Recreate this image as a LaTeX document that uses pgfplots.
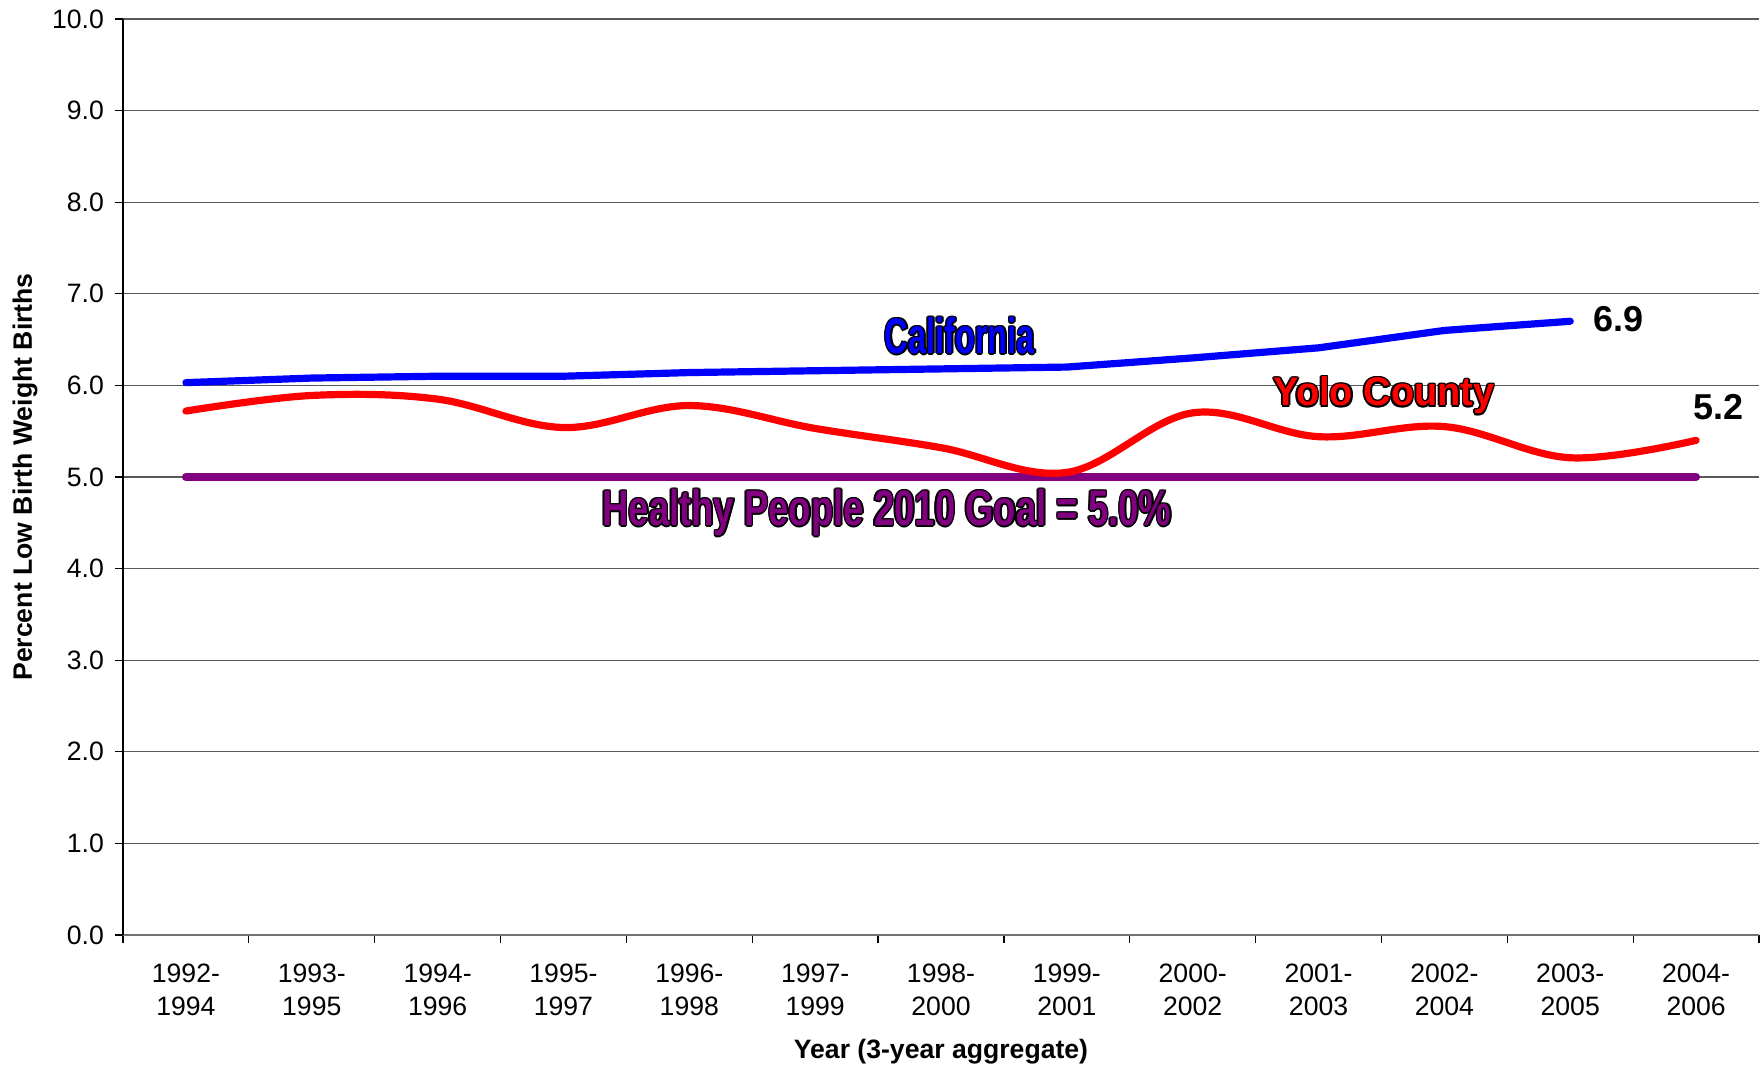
\documentclass[border=0pt]{standalone}
\usepackage{pgfplots}
\pgfplotsset{compat=1.18}
\usepackage{fontspec}
\setmainfont{Liberation Sans}
\definecolor{cablue}{RGB}{0,0,255}
\definecolor{yolored}{RGB}{255,0,0}
\definecolor{hppurple}{RGB}{128,0,128}
\newcommand{\outlined}[5]{%
  \foreach \dx/\dy in {0.8/0,-0.8/0,0/0.8,0/-0.8,0.6/0.6,0.6/-0.6,-0.6/0.6,-0.6/-0.6}{%
    \node[text=black, font=#3, shift={(\dx pt,\dy pt)}, xscale=#4, inner sep=0pt] at (#1) {#5};}
  \node[text=#2, font=#3, xscale=#4, inner sep=0pt] at (#1) {#5};}
\begin{document}
\begin{tikzpicture}
\path[use as bounding box] (0,0) rectangle (880pt,534pt);
\begin{axis}[
  at={(61.5pt,66.5pt)}, anchor=south west,
  width=818pt, height=458pt, scale only axis,
  xmin=-0.5, xmax=12.5, ymin=0, ymax=10,
  axis x line*=bottom, axis y line*=left,
  axis line style={-},
  x axis line style={draw=black!55, line width=0.8pt},
  y axis line style={draw=black, line width=0.6pt},
  tick align=outside,
  major tick length=4pt, minor tick length=4pt,
  xtick={0,...,12},
  xticklabels={{1992-\\1994},{1993-\\1995},{1994-\\1996},{1995-\\1997},{1996-\\1998},{1997-\\1999},{1998-\\2000},{1999-\\2001},{2000-\\2002},{2001-\\2003},{2002-\\2004},{2003-\\2005},{2004-\\2006}},
  minor xtick={-0.5,0.5,...,12.5},
  every major x tick/.append style={draw=none},
  every minor x tick/.append style={draw=black, line width=0.6pt},
  ytick={0,1,...,10},
  yticklabels={0.0,1.0,2.0,3.0,4.0,5.0,6.0,7.0,8.0,9.0,10.0},
  every major y tick/.append style={draw=black, line width=0.6pt},
  ymajorgrids,
  major grid style={draw=black!65, line width=0.6pt},
  xticklabel style={align=center, font=\fontsize{13.3}{16.3}\selectfont, yshift=-7pt},
  yticklabel style={font=\fontsize{13.3}{15}\selectfont, xshift=-2pt},
  xlabel={Year (3-year aggregate)},
  xlabel style={at={(rel axis cs:0.5,-0.1277)}, anchor=center, font=\bfseries\fontsize{13.3}{15}\selectfont},
  ylabel={Percent Low Birth Weight Births},
  ylabel style={at={(rel axis cs:-0.0598,0.5)}, anchor=center, rotate=0, font=\bfseries\fontsize{13.3}{15}\selectfont},
  clip=false,
]
\addplot[hppurple, line width=4pt, line cap=round] coordinates {(0,5.0) (12,5.0)};
\addplot[cablue, line width=3.6pt, line cap=round, line join=round] coordinates {
(0,6.03) (1,6.08) (2,6.10) (3,6.10) (4,6.14) (5,6.16) (6,6.18) (7,6.20) (8,6.30) (9,6.41) (10,6.60) (11,6.70)};
\addplot[yolored, line width=3.6pt, line cap=round, smooth, tension=0.6] coordinates {
(0,5.72) (1,5.89) (2,5.85) (3,5.54) (4,5.78) (5,5.53) (6,5.32) (7,5.05) (8,5.70) (9,5.44) (10,5.55) (11,5.21) (12,5.40)};
\coordinate (cal) at (axis cs:6.15,6.54);
\coordinate (yolo) at (axis cs:9.52,5.89);
\coordinate (hp) at (axis cs:5.57,4.61);
\node[font=\bfseries\fontsize{18}{18}\selectfont] at (axis cs:11.38,6.72) {6.9};
\node[font=\bfseries\fontsize{18}{18}\selectfont] at (axis cs:12.18,5.76) {5.2};
\end{axis}
\outlined{cal}{cablue}{\bfseries\fontsize{25}{25}\selectfont}{0.65}{California}
\outlined{yolo}{yolored}{\bfseries\fontsize{20}{20}\selectfont}{0.95}{Yolo County}
\outlined{hp}{hppurple}{\bfseries\fontsize{25}{25}\selectfont}{0.73}{Healthy People 2010 Goal = 5.0\%}
\end{tikzpicture}
\end{document}
